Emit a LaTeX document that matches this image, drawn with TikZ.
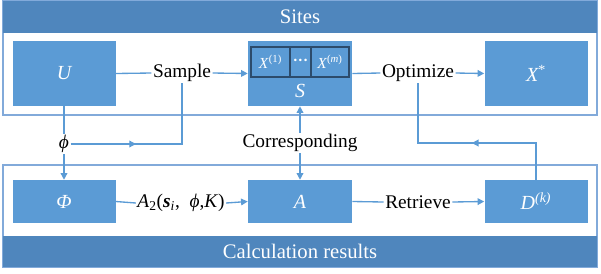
\documentclass[tikz,border=0pt]{standalone}
\usepackage{fontspec}
\setmainfont{Liberation Serif}
\newfontfamily\tnr{Liberation Serif}
\usetikzlibrary{arrows.meta,decorations.markings}
\definecolor{boxblue}{HTML}{5B9BD5}
\definecolor{headblue}{HTML}{4F86BD}
\definecolor{frameblue}{HTML}{82AADA}
\definecolor{celledge}{HTML}{2C4B6B}
\begin{document}
\begin{tikzpicture}[x=0.75pt,y=-0.75pt,
  box/.style={fill=boxblue, draw=none, text=white, minimum width=77.25pt, inner sep=0pt,
              font=\tnr\fontsize{15}{17}\selectfont\itshape},
  topbox/.style={box, minimum height=48.75pt},
  botbox/.style={box, minimum height=32.25pt},
  cell/.style={draw=celledge, line width=0.8pt, text=white, inner sep=0pt, minimum height=22.5pt,
               font=\tnr\fontsize{11.5}{13}\selectfont},
  lbl/.style={font=\tnr\fontsize{14.5}{16}\selectfont, inner sep=1pt},
  head/.style={text=white, font=\tnr\fontsize{15.5}{18}\selectfont},
  frame/.style={draw=frameblue, line width=0.8pt},
  conn/.style={draw=boxblue, line width=1pt},
  tip/.tip={Triangle[length=5pt,width=5pt]},
  arr/.style={conn, -tip},
  midarr/.style={conn, postaction={decorate},
     decoration={markings, mark=at position #1 with {\arrow{tip}}}}
]
\useasboundingbox (0,0) rectangle (601,273);
% frames
\draw[frame] (3,1) rectangle (597,115);
\fill[headblue] (3,1) rectangle (597,33);
\node[head] (sites) at (300,17) {Sites};
\draw[frame] (3,165) rectangle (597,267);
\fill[headblue] (3,236) rectangle (597,267);
\node[head] (calc) at (300,251.5) {Calculation results};
% top boxes
\node[topbox] (U) at (64,73.5) {U};
\node[topbox, minimum width=78pt] (S) at (300,73.5) {};
\node[box] (Slbl) at (300,91) {S};
\node[topbox] (X) at (536,73.5) {X\textsuperscript{\upshape *}};
\node[cell, minimum width=29.25pt] (c1) at (270.5,62) {\textit{X}\textsuperscript{(1)}};
\node[cell, minimum width=15.75pt] (c2) at (300.5,62) {\textbf{···}};
\node[cell, minimum width=28.5pt] (c3) at (330,62) {\textit{X}\textsuperscript{(\textit{m})}};
% bottom boxes
\node[botbox] (Phi) at (64,201.5) {Φ};
\node[botbox, minimum width=78pt] (A) at (300,201.5) {A};
\node[botbox] (D) at (536,201.5) {D\textsuperscript{(\textit{k})}};
% labels
\node[lbl] (sample) at (182,73) {Sample};
\node[lbl] (opt) at (418,73) {Optimize};
\node[lbl] (phi) at (64,144) {\textit{ϕ}};
\node[lbl] (corr) at (300,143) {Corresponding};
\node[lbl] (a2) at (181,203) {\textit{A}\textsubscript{2}(\textbf{\textit{s}}\textsubscript{\textit{i}}, \ \textit{ϕ},\textit{K})};
\node[lbl] (ret) at (418,202) {Retrieve};
% connectors
\draw[conn] (U.east) -- (sample.west);
\draw[arr] (sample.east) -- (S.west);
\draw[conn] (S.east) -- (opt.west);
\draw[arr] (opt.east) -- (X.west);
\draw[conn] (Phi.east) -- (a2.west);
\draw[arr] (a2.east) -- (A.west);
\draw[conn] (A.east) -- (ret.west);
\draw[arr] (ret.east) -- (D.west);
\draw[conn] (U.south) -- (phi.north);
\draw[arr] (phi.south) -- (Phi.north);
\coordinate (phiR) at (182,144);
\draw[midarr=0.38] (phi.east) -- (phiR) -- (sample.south);
\draw[arr] (corr.north) -- (S.south);
\draw[arr] (corr.south) -- (A.north);
\coordinate (fbR) at (536,143);
\coordinate (fbL) at (418,143);
\draw[midarr=0.47] (D.north) -- (fbR) -- (fbL) -- (opt.south);
\end{tikzpicture}
\end{document}
